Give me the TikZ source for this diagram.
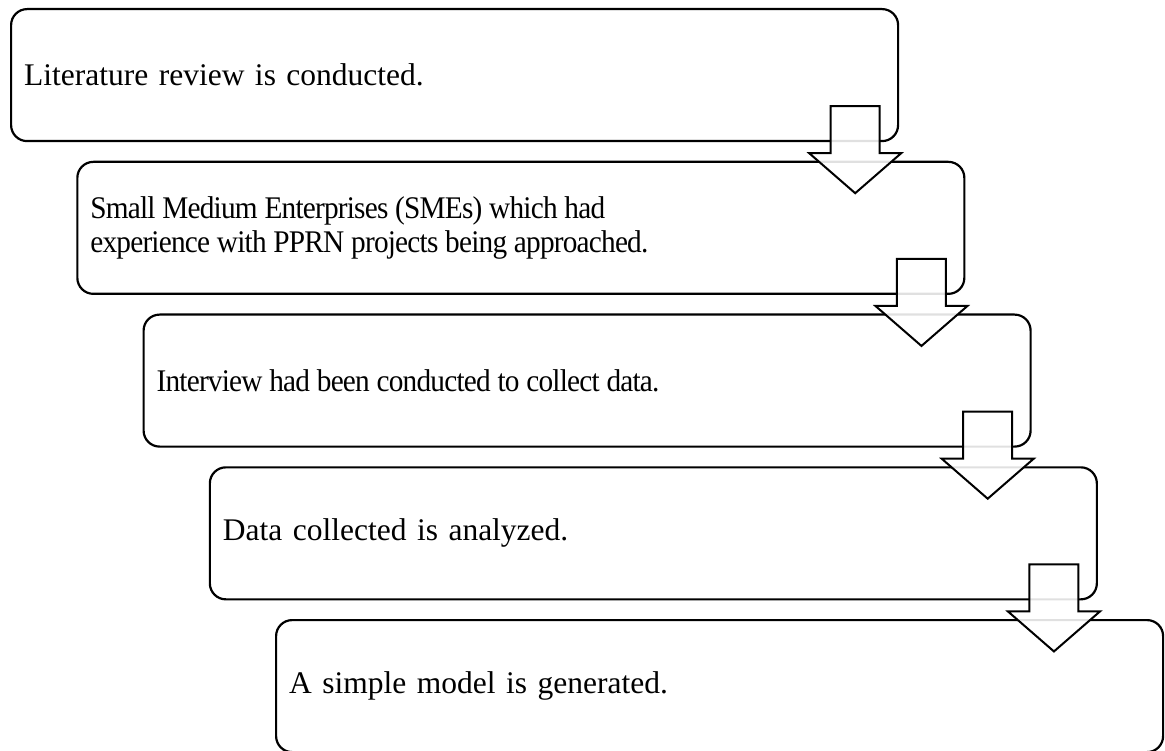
\documentclass[tikz,border=0pt]{standalone}
\usepackage{fontspec}
\setmainfont{Liberation Serif}
% narrower setting used by the two longer steps
\newfontfamily\tightserif[FakeStretch=0.93,LetterSpace=-2.5]{Liberation Serif}
\newcommand{\tighttext}{\tightserif\spaceskip=6.8pt plus 2pt minus 1pt\relax}
\usetikzlibrary{calc}
\tikzset{
  stepbox/.style={draw, line width=2.2pt, rounded corners=16pt,
    minimum height=132pt, inner xsep=13pt, inner ysep=0pt,
    text width=861pt, align=left, anchor=north west,
    font=\fontsize{31.5}{34}\selectfont},
  flowarrow/.style={draw, line width=2pt, fill=white, fill opacity=0.88,
    line join=miter},
  pics/downarrow/.style={code={
    \path[flowarrow] (-24.5,-36) -- (24.5,-36) -- (24.5,11) -- (46,11)
      -- (0,51) -- (-46,11) -- (-24.5,11) -- cycle;
  }}
}
\begin{document}
\begin{tikzpicture}[x=1pt,y=-1pt]
\useasboundingbox (0,0) rectangle (1165,751);
% the five steps, each shifted right and down from the one before
\node[stepbox] (s1) at (10,8)         {Literature review is conducted.};
\node[stepbox] (s2) at (76.25,160.75) {\tighttext Small Medium Enterprises (SMEs) which had\\experience with PPRN projects being approached.};
\node[stepbox] (s3) at (142.5,313.5)  {\tighttext Interview had been conducted to collect data.};
\node[stepbox] (s4) at (208.75,466.25) {Data collected is analyzed.};
\node[stepbox] (s5) at (275,619)      {A simple model is generated.};
% block arrows leading from each step into the next
\pic at ($(s1.south east)+(-44,0)$) {downarrow};
\pic at ($(s2.south east)+(-44,0)$) {downarrow};
\pic at ($(s3.south east)+(-44,0)$) {downarrow};
\pic at ($(s4.south east)+(-44,0)$) {downarrow};
\end{tikzpicture}
\end{document}
